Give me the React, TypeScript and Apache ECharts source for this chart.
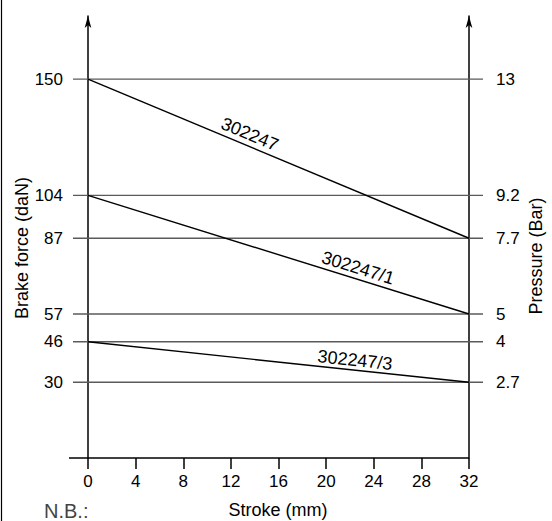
import React, { useEffect, useRef } from "react";
import * as echarts from "echarts";

const strokeRange = [0, 32];
const strokeInterval = 4;
const force302247 = [150, 87];
const force302247_1 = [104, 57];
const force302247_3 = [46, 30];
const lineNames = ["302247", "302247/1", "302247/3"];
const forceTicks = [150, 104, 87, 57, 46, 30];
const pressureLabels = ["13", "9.2", "7.7", "5", "4", "2.7"];

const FONT = "Liberation Sans, Arial, sans-serif";
// label placement along each line: fraction of length, perpendicular offset (px)
const labelPlacement = [
  { t: 0.413, off: 11.6 },
  { t: 0.7, off: 11.1 },
  { t: 0.698, off: 10 },
];

export default function App() {
  const ref = useRef<HTMLDivElement>(null);
  useEffect(() => {
    const chart = echarts.init(ref.current!, undefined, { renderer: "svg" });
    const lines = [force302247, force302247_1, force302247_3];
    const option: any = {
      animation: false,
      backgroundColor: "#fff",
      grid: { left: 88, right: 83, top: 16, bottom: 63 },
      xAxis: {
        type: "value",
        min: strokeRange[0],
        max: strokeRange[1],
        interval: strokeInterval,
        axisLine: { show: false, onZero: false },
        axisTick: { show: true, length: 11, lineStyle: { color: "#000", width: 1.5 } },
        axisLabel: { margin: 15, fontSize: 17, color: "#000", fontFamily: FONT },
        splitLine: { show: false },
      },
      yAxis: [
        {
          type: "value",
          min: 0,
          max: 175,
          position: "left",
          axisLine: {
            show: true,
            onZero: false,
            symbol: ["none", "arrow"],
            symbolSize: [5, 12],
            lineStyle: { color: "#000", width: 1.5 },
          },
          axisTick: { show: false },
          splitLine: { show: false },
          axisLabel: {
            customValues: forceTicks,
            margin: 25,
            fontSize: 17,
            color: "#000",
            fontFamily: FONT,
          },
        },
        {
          type: "value",
          min: 0,
          max: 175,
          position: "right",
          axisLine: {
            show: true,
            onZero: false,
            symbol: ["none", "arrow"],
            symbolSize: [5, 12],
            lineStyle: { color: "#000", width: 1.5 },
          },
          axisTick: { show: false },
          splitLine: { show: false },
          axisLabel: {
            customValues: forceTicks,
            margin: 27,
            fontSize: 17,
            color: "#000",
            fontFamily: FONT,
            formatter: (v: number) => {
              const i = forceTicks.indexOf(v);
              return i >= 0 ? pressureLabels[i] : "";
            },
          },
        },
      ],
      graphic: [
        { type: "line", shape: { x1: 1.5, y1: 0, x2: 1.5, y2: 521 }, style: { stroke: "#000", lineWidth: 1.2 } },
        {
          type: "text",
          x: 22,
          y: 248,
          rotation: Math.PI / 2,
          style: { text: "Brake force (daN)", fontSize: 18, fontFamily: FONT, fill: "#000", align: "center", verticalAlign: "middle" },
        },
        {
          type: "text",
          x: 536,
          y: 256,
          rotation: Math.PI / 2,
          style: { text: "Pressure (Bar)", fontSize: 18, fontFamily: FONT, fill: "#000", align: "center", verticalAlign: "middle" },
        },
        {
          type: "text",
          x: 278,
          y: 510,
          style: { text: "Stroke (mm)", fontSize: 18, fontFamily: FONT, fill: "#000", align: "center", verticalAlign: "middle" },
        },
        {
          type: "text",
          x: 44,
          y: 501,
          style: { text: "N.B.:", fontSize: 20, fontWeight: 300, fontFamily: FONT, fill: "#444", align: "left", verticalAlign: "top" },
        },
      ],
      series: [
        {
          type: "custom",
          name: "grid",
          coordinateSystem: "cartesian2d",
          clip: false,
          silent: true,
          encode: { x: [0, 2], y: 1 },
          data: forceTicks.map((v) => [strokeRange[0], v, strokeRange[1]]),
          renderItem: (params: any, api: any) => {
            const p0 = api.coord([api.value(0), api.value(1)]);
            const p1 = api.coord([api.value(2), api.value(1)]);
            return {
              type: "line",
              shape: { x1: p0[0] - 15, y1: p0[1], x2: p1[0] + 14, y2: p1[1] },
              style: { stroke: "#5a5a5a", lineWidth: 1.4 },
            };
          },
        },
        {
          type: "custom",
          name: "xaxisline",
          coordinateSystem: "cartesian2d",
          clip: false,
          silent: true,
          encode: { x: [0, 2], y: 1 },
          data: [[strokeRange[0], 0, strokeRange[1]]],
          renderItem: (params: any, api: any) => {
            const p0 = api.coord([api.value(0), api.value(1)]);
            const p1 = api.coord([api.value(2), api.value(1)]);
            return {
              type: "line",
              shape: { x1: p0[0] - 19, y1: p0[1], x2: p1[0], y2: p1[1] },
              style: { stroke: "#000", lineWidth: 1.5 },
            };
          },
        },
        ...lines.map((l, i) => ({
          type: "line",
          name: lineNames[i],
          data: [
            [strokeRange[0], l[0]],
            [strokeRange[1], l[1]],
          ],
          symbol: "none",
          lineStyle: { color: "#000", width: 1.4 },
          z: 5,
        })),
        {
          type: "custom",
          name: "labels",
          coordinateSystem: "cartesian2d",
          clip: false,
          silent: true,
          encode: { x: [0, 2], y: [1, 3] },
          data: lines.map((l, i) => [strokeRange[0], l[0], strokeRange[1], l[1], i]),
          renderItem: (params: any, api: any) => {
            const i = api.value(4);
            const p0 = api.coord([api.value(0), api.value(1)]);
            const p1 = api.coord([api.value(2), api.value(3)]);
            const th = Math.atan2(p1[1] - p0[1], p1[0] - p0[0]);
            const pl = labelPlacement[i];
            const fx = p0[0] + pl.t * (p1[0] - p0[0]);
            const fy = p0[1] + pl.t * (p1[1] - p0[1]);
            const cx = fx + pl.off * Math.sin(th);
            const cy = fy - pl.off * Math.cos(th);
            return {
              type: "text",
              x: cx,
              y: cy,
              rotation: -th,
              style: {
                text: lineNames[i],
                fontSize: 18,
                fontFamily: FONT,
                fill: "#000",
                align: "center",
                verticalAlign: "middle",
              },
            };
          },
        },
      ],
    };
    chart.setOption(option);
    return () => chart.dispose();
  }, []);
  return (
    <div
      ref={ref}
      style={{ position: "fixed", left: 0, top: 0, width: 552, height: 521 }}
    />
  );
}
